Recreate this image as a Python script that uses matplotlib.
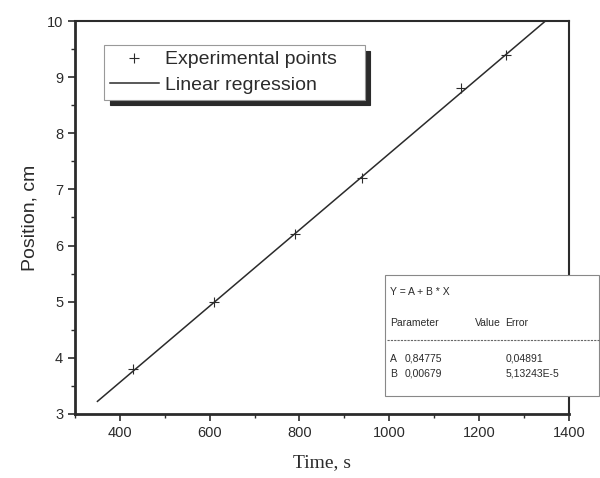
import matplotlib

matplotlib.use("Agg")
import matplotlib.pyplot as plt
import numpy as np
from matplotlib.patches import Rectangle
from matplotlib.ticker import MultipleLocator

time_s = [430, 610, 790, 940, 1160, 1260]
position_cm = [3.8, 5.0, 6.2, 7.2, 8.8, 9.4]

# fit parameters as printed in the stats box
fit_a = 0.84775
fit_b = 0.00679
fit_a_err = "0,04891"
fit_b_err = "5,13243E-5"
fit_x_range = [350, 1348]

ink = "#2b2b2b"
plt.rcParams["font.family"] = ["Liberation Sans", "DejaVu Sans"]

fig = plt.figure(figsize=(6, 4.78), dpi=100)
ax = fig.add_axes([0.125, 0.134, 0.823, 0.822])

fit_x = np.array(fit_x_range, dtype=float)
ax.plot(fit_x, fit_a + fit_b * fit_x, color=ink, lw=1.1, label="Linear regression    ")
ax.plot(time_s, position_cm, ls="none", marker="+", ms=7.5, mew=0.8,
        color=ink, label="Experimental points    ")

ax.set_xlim(300, 1400)
ax.set_ylim(3, 10)
ax.xaxis.set_major_locator(MultipleLocator(200))
ax.xaxis.set_minor_locator(MultipleLocator(100))
ax.yaxis.set_major_locator(MultipleLocator(1))
ax.yaxis.set_minor_locator(MultipleLocator(0.5))
ax.tick_params(which="both", direction="out", colors=ink, labelsize=10.5)
ax.tick_params(which="major", length=5, width=1.2)
ax.tick_params(which="minor", length=3, width=1.0)
for side in ("left", "bottom"):
    ax.spines[side].set_linewidth(2.0)
for side in ("top", "right"):
    ax.spines[side].set_linewidth(1.5)
for sp in ax.spines.values():
    sp.set_color(ink)

ax.set_xlabel("Time, s", family=["Liberation Serif", "DejaVu Serif"],
              fontsize=14, color=ink, labelpad=10)
ax.set_ylabel("Position, cm", fontsize=14, color=ink, labelpad=6)

handles, labels = ax.get_legend_handles_labels()
leg = ax.legend(handles[::-1], labels[::-1], loc="upper left",
                bbox_to_anchor=(0.059, 0.939), borderaxespad=0, fontsize=14,
                frameon=True, fancybox=False, borderpad=0.3, labelspacing=0.4,
                handlelength=2.5, handletextpad=0.35,
                shadow={"ox": 4, "oy": -4, "facecolor": ink, "edgecolor": ink, "alpha": 1.0})
leg.get_frame().set_edgecolor("#999999")
leg.get_frame().set_linewidth(0.8)
for t in leg.get_texts():
    t.set_color(ink)

# fit statistics box, sitting over the right spine
bx0, by0, bx1, by1 = 0.642, 0.172, 0.999, 0.425
fig.patches.append(Rectangle((bx0, by0), bx1 - bx0, by1 - by0, transform=fig.transFigure,
                             facecolor="white", edgecolor="#888888", lw=0.8, zorder=5))
fs = 7.5
fig.text(0.65, 0.389, "Y = A + B * X", fontsize=fs, color=ink, va="center", zorder=6)
fig.text(0.65, 0.324, "Parameter", fontsize=fs, color=ink, va="center", zorder=6)
fig.text(0.792, 0.324, "Value", fontsize=fs, color=ink, va="center", zorder=6)
fig.text(0.842, 0.324, "Error", fontsize=fs, color=ink, va="center", zorder=6)
fig.lines.append(plt.Line2D([0.645, 0.999], [0.289, 0.289], transform=fig.transFigure,
                            color="#666666", lw=0.8, ls=(0, (2, 1)), zorder=6))
rows = [("A", fit_a, fit_a_err), ("B", fit_b, fit_b_err)]
for i, (name, val, err) in enumerate(rows):
    yy = 0.249 - i * 0.031
    fig.text(0.65, yy, name, fontsize=fs, color=ink, va="center", zorder=6)
    fig.text(0.675, yy, f"{val:.5f}".replace(".", ","), fontsize=fs, color=ink,
             va="center", zorder=6)
    fig.text(0.842, yy, err, fontsize=fs, color=ink, va="center", zorder=6)

fig.savefig("out.png", dpi=100)
